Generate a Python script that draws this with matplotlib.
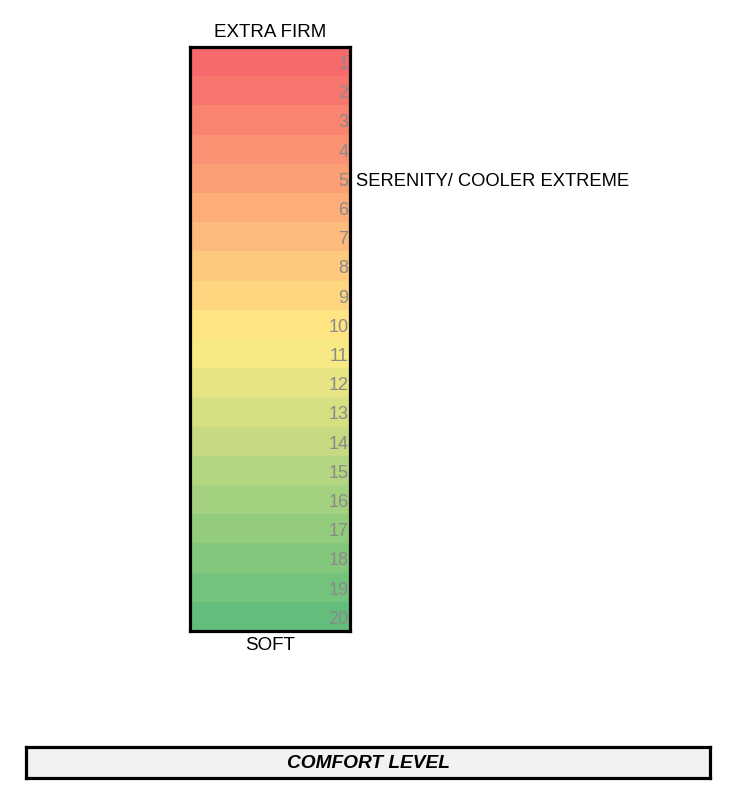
import matplotlib.pyplot as plt
from matplotlib.colors import LinearSegmentedColormap
import numpy as np

# comfort scale rows, 1 = extra firm .. 20 = soft
levels = list(range(1, 21))
top_label = "EXTRA FIRM"
bottom_label = "SOFT"
marked_level = 5
marked_name = "SERENITY/ COOLER EXTREME"
footer = "COMFORT LEVEL"

W, H = 731, 793
fig = plt.figure(figsize=(W / 100, H / 100), dpi=100)

narrow = ['Liberation Sans Narrow', 'Liberation Sans', 'DejaVu Sans']

# Excel style 3-colour scale red -> yellow -> green
cmap = LinearSegmentedColormap.from_list('scale', ['#F8696B', '#FFEB84', '#63BE7B'])

def fig_rect(x0, y0, x1, y1):
    return [x0 / W, 1 - y1 / H, (x1 - x0) / W, (y1 - y0) / H]

ax = fig.add_axes(fig_rect(190, 47, 350, 631))
ax.set_xlim(0, 1)
ax.set_ylim(len(levels) + 0.5, 0.5)
vmin, vmax = min(levels), max(levels)
for lv in levels:
    ax.barh(lv, 1, height=1.0, left=0, color=cmap((lv - vmin) / (vmax - vmin)),
            edgecolor='none')
    ax.text(0.99, lv + 0.1, str(lv), ha='right', va='center', fontsize=13,
            color='#8a8a8a', family=narrow)
ax.set_xticks([])
ax.set_yticks([])
for s in ax.spines.values():
    s.set_linewidth(2.3)
    s.set_color('black')

ax.text(0.5, 1.01, top_label, transform=ax.transAxes, ha='center', va='bottom',
        fontsize=13.5, family=narrow)
ax.text(0.5, -0.01, bottom_label, transform=ax.transAxes, ha='center', va='top',
        fontsize=13.5, family=narrow)
ax.text(1.035, marked_level + 0.12, marked_name, transform=ax.get_yaxis_transform(),
        ha='left', va='center', fontsize=13.2, family=narrow, clip_on=False)

# footer box
fax = fig.add_axes(fig_rect(26, 747, 710, 778))
fax.set_xlim(0, 1)
fax.set_ylim(0, 1)
fax.set_facecolor('#F2F2F2')
fax.set_xticks([])
fax.set_yticks([])
for s in fax.spines.values():
    s.set_linewidth(2.3)
    s.set_color('black')
fax.text(0.5, 0.48, footer, ha='center', va='center', fontsize=13.8,
         fontweight='bold', fontstyle='italic', family=narrow)

fig.savefig('out.png', dpi=100)
